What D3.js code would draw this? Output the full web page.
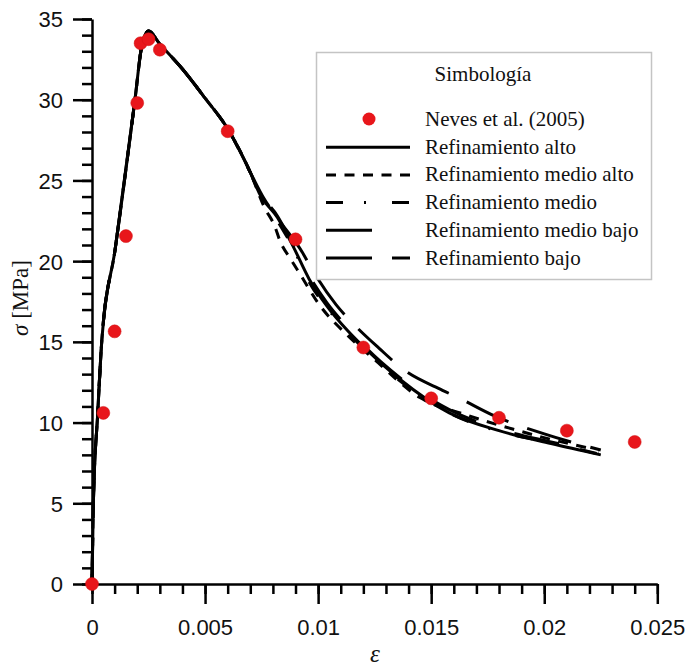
<!DOCTYPE html>
<html>
<head>
<meta charset="utf-8">
<script src="https://cdn.jsdelivr.net/npm/d3@7"></script>
<style>
html,body{margin:0;padding:0;background:#fff;}
svg{display:block;}
</style>
</head>
<body>
<svg id="chart" width="689" height="670"></svg>
<script>
// ---- data ----
const nevesStrain = [0,0.0005,0.001,0.0015,0.002,0.00215,0.0025,0.003,0.006,0.009,0.012,0.015,0.018,0.021,0.024];
const nevesStress = [0,10.6,15.65,21.55,29.8,33.5,33.75,33.1,28.05,21.35,14.65,11.5,10.3,9.5,8.8];

const riseStrain = [0,0.00006,0.00025,0.00044,0.00102,0.0019,0.0022,0.0025,0.003,0.004,0.005,0.006,0.007];
const riseStress = [0,5,10.5,15.2,20.7,30,33.3,34.25,33.45,31.9,30.1,28.2,25.5];

const altoStrain = [0.0074,0.0082,0.0089,0.0096,0.0104,0.0113,0.012,0.0136,0.0158,0.018,0.0203,0.0225];
const altoStress = [24.2,22.7,20.9,18.9,17.2,15.7,14.7,12.7,10.6,9.5,8.7,8.0];

const medioAltoStrain = [0.0076,0.0081,0.0083,0.0088,0.0092,0.0100,0.0113,0.0125,0.0145,0.0165,0.0186,0.0199,0.0222];
const medioAltoStress = [23.4,22.1,21.3,20.1,19.2,17.4,15.4,13.9,11.55,10.5,9.6,9.1,8.35];

const medioStrain = [0.0074,0.0082,0.0089,0.0096,0.0104,0.0113,0.012,0.0136,0.0158,0.018,0.0203,0.0224];
const medioStress = [24.2,22.5,20.8,18.7,17.1,15.6,14.6,12.6,10.6,9.45,8.75,8.05];

const medioBajoStrain = [0.0074,0.0082,0.0089,0.0096,0.0104,0.0113,0.012,0.0136,0.0158,0.018,0.0203,0.0224];
const medioBajoStress = [24.3,22.8,21.0,19.1,17.4,15.9,14.8,12.8,10.8,9.6,8.8,8.15];

const bajoStrain = [0.0076,0.0082,0.0093,0.0097,0.0108,0.0115,0.0127,0.0138,0.0155,0.0162,0.0178,0.02,0.0225];
const bajoStress = [23.9,22.66,20.55,19.56,17.29,16.2,14.6,13.26,12.0,11.54,10.41,9.3,8.3];

const seriesNames = ["Refinamiento alto","Refinamiento medio alto","Refinamiento medio","Refinamiento medio bajo","Refinamiento bajo"];
const seriesDash = [null,"10,8.5","17,21,2,26","46,40","46,20"];
const legendTitle = "Simbología";
const nevesName = "Neves et al. (2005)";

const xTickValues = [0,0.005,0.01,0.015,0.02,0.025];
const xTickLabels = ["0","0.005","0.01","0.015","0.02","0.025"];
const yTickValues = [0,5,10,15,20,25,30,35];
const yTickLabels = ["0","5","10","15","20","25","30","35"];

// ---- chart ----
const svg = d3.select("#chart");
const x = d3.scaleLinear().domain([0,0.025]).range([92,657.3]);
const y = d3.scaleLinear().domain([0,35]).range([584,19]);

function build(xs, ys){
  const pts = [];
  riseStrain.forEach((v,i)=>pts.push([v,riseStress[i]]));
  xs.forEach((v,i)=>pts.push([v,ys[i]]));
  return pts;
}
const curves = [
  build(altoStrain, altoStress),
  build(medioAltoStrain, medioAltoStress),
  build(medioStrain, medioStress),
  build(medioBajoStrain, medioBajoStress),
  build(bajoStrain, bajoStress)
];

const line = d3.line().x(d=>x(d[0])).y(d=>y(d[1])).curve(d3.curveMonotoneX);

// minor ticks
const xMinor = d3.range(0,0.02501,0.001);
const yMinor = d3.range(0,35.01,1);
svg.append("g").attr("transform","translate(0,584)")
  .call(d3.axisBottom(x).tickValues(xMinor).tickSize(10).tickFormat(""))
  .call(g=>g.select(".domain").remove())
  .selectAll("line").attr("stroke","#000").attr("stroke-width",2.5);
svg.append("g").attr("transform","translate(92,0)")
  .call(d3.axisLeft(y).tickValues(yMinor).tickSize(10).tickFormat(""))
  .call(g=>g.select(".domain").remove())
  .selectAll("line").attr("stroke","#000").attr("stroke-width",2.5);

// major axes
const xAxis = svg.append("g").attr("transform","translate(0,584)")
  .call(d3.axisBottom(x).tickValues(xTickValues).tickSize(20).tickSizeOuter(0)
    .tickFormat((d,i)=>xTickLabels[i]));
xAxis.select(".domain").attr("stroke","#000").attr("stroke-width",2.5);
xAxis.selectAll("line").attr("stroke","#000").attr("stroke-width",2.5);
xAxis.selectAll("text").attr("y",51).attr("dy",null)
  .attr("font-family","'Liberation Sans', Arial, sans-serif").attr("font-size",22).attr("fill","#111");

const yAxis = svg.append("g").attr("transform","translate(92,0)")
  .call(d3.axisLeft(y).tickValues(yTickValues).tickSize(19).tickSizeOuter(0)
    .tickFormat((d,i)=>yTickLabels[i]));
yAxis.select(".domain").attr("stroke","#000").attr("stroke-width",2.5);
yAxis.selectAll("line").attr("stroke","#000").attr("stroke-width",2.5);
yAxis.selectAll("text").attr("x",-29).attr("dy","0.36em")
  .attr("font-family","'Liberation Sans', Arial, sans-serif").attr("font-size",22).attr("fill","#111");

// axis titles
const yt = svg.append("text")
  .attr("transform","translate(28,298) rotate(-90)")
  .attr("text-anchor","middle")
  .attr("font-family","'Liberation Serif', 'Times New Roman', serif")
  .attr("font-size",23).attr("fill","#111");
yt.append("tspan").attr("font-style","italic").text("σ");
yt.append("tspan").text(" [MPa]");

svg.append("text").attr("x",375).attr("y",662).attr("text-anchor","middle")
  .attr("font-family","'Liberation Serif', 'Times New Roman', serif")
  .attr("font-style","italic").attr("font-size",25).attr("fill","#111").text("ε");

// curves
curves.forEach((c,i)=>{
  svg.append("path").datum(c).attr("d",line)
    .attr("fill","none").attr("stroke","#000").attr("stroke-width",3)
    .attr("stroke-dasharray",seriesDash[i]);
});

// points
svg.append("g").selectAll("circle").data(nevesStrain.map((v,i)=>[v,nevesStress[i]]))
  .join("circle")
  .attr("cx",d=>x(d[0])).attr("cy",d=>y(d[1])).attr("r",6.5)
  .attr("fill","#e8161b").attr("stroke","#d01010").attr("stroke-width",0.5);

// legend
const lg = svg.append("g");
lg.append("rect").attr("x",316.5).attr("y",52.5).attr("width",335).attr("height",227)
  .attr("fill","#fff").attr("stroke","#c4c4c4").attr("stroke-width",1.5);
const serif = "'Liberation Serif', 'Times New Roman', serif";
lg.append("text").attr("x",483).attr("y",81).attr("text-anchor","middle")
  .attr("font-family",serif).attr("font-size",21).attr("fill","#111").text(legendTitle);
lg.append("circle").attr("cx",369).attr("cy",119).attr("r",6.5).attr("fill","#e8161b");
lg.append("text").attr("x",425).attr("y",126)
  .attr("font-family",serif).attr("font-size",21).attr("fill","#111").text(nevesName);
const rowBase = [153.7,181.4,209.1,236.8,264.5];
seriesNames.forEach((n,i)=>{
  lg.append("line").attr("x1",326).attr("x2",410)
    .attr("y1",rowBase[i]-6.5).attr("y2",rowBase[i]-6.5)
    .attr("stroke","#000").attr("stroke-width",3).attr("stroke-dasharray",seriesDash[i]);
  lg.append("text").attr("x",425).attr("y",rowBase[i])
    .attr("font-family",serif).attr("font-size",21).attr("fill","#111").text(n);
});
</script>
</body>
</html>
